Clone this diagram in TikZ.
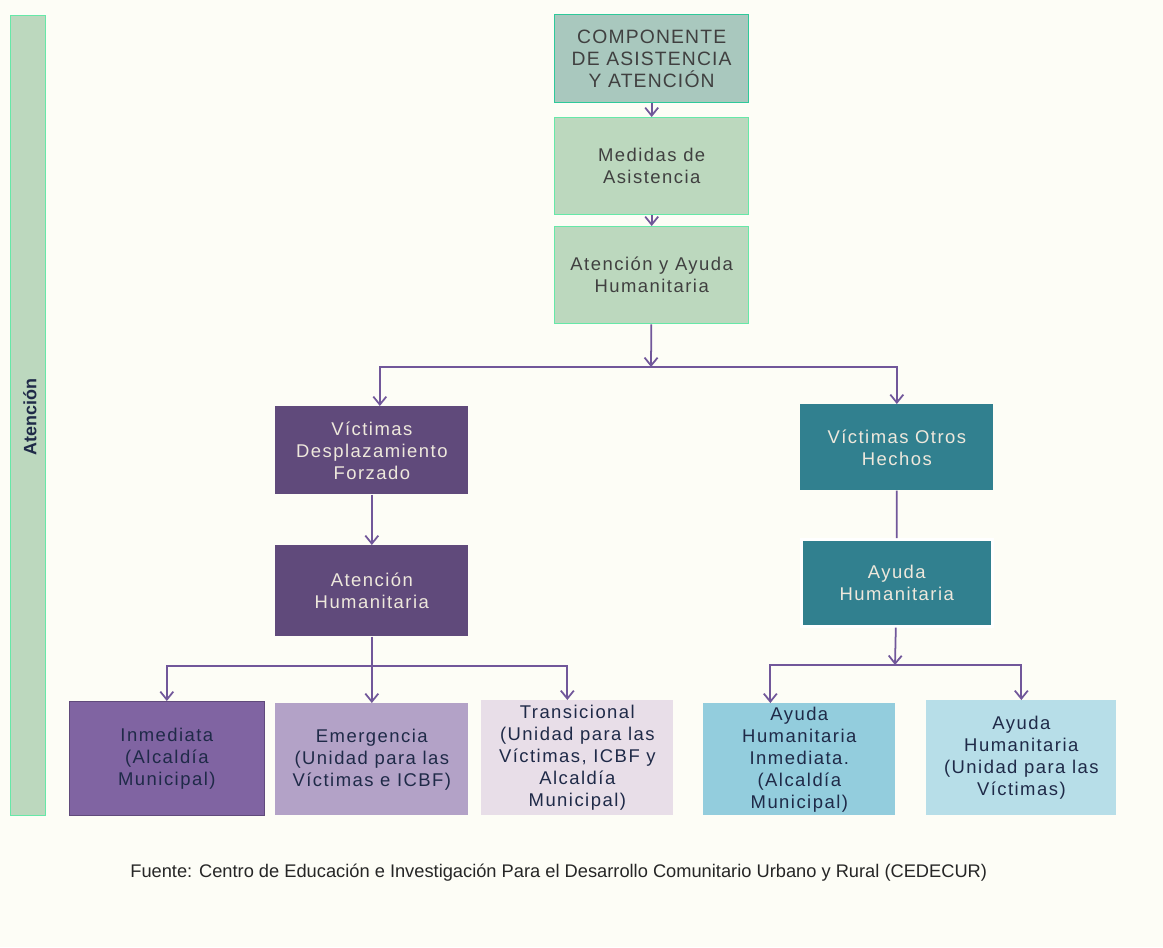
\documentclass[tikz,border=0pt]{standalone}
\usepackage{fontspec}
\setmainfont{Liberation Sans}
\usetikzlibrary{arrows.meta}

\definecolor{fondo}{HTML}{FDFDF6}
\definecolor{verdeclaro}{HTML}{BCD8BE}
\definecolor{verdeborde}{HTML}{66E8A8}
\definecolor{verdegris}{HTML}{A9C8BE}
\definecolor{verdeoscuro}{HTML}{2EC99A}
\definecolor{moradoosc}{HTML}{604A7B}
\definecolor{moradomed}{HTML}{8064A2}
\definecolor{moradoclaro}{HTML}{B3A2C7}
\definecolor{lila}{HTML}{E8DEE8}
\definecolor{azulverde}{HTML}{31808F}
\definecolor{celeste}{HTML}{93CDDD}
\definecolor{celesteclaro}{HTML}{B7DEE8}
\definecolor{flecha}{HTML}{71579A}
\definecolor{textooscuro}{HTML}{1F2A48}
\definecolor{textoclaro}{HTML}{EEE8DC}

\tikzset{
  caja/.style={rectangle, anchor=north west, align=center, inner sep=2pt, font=\fontsize{10.5}{12.5}\selectfont\addfontfeature{LetterSpace=8}},
  verde/.style={caja, draw=verdeborde, line width=0.8pt, fill=verdeclaro, text=black!75},
  morado/.style={caja, fill=moradoosc, text=textoclaro},
  teal/.style={caja, fill=azulverde, text=textoclaro},
  final/.style={caja, text=textooscuro},
  conector/.style={draw=flecha, line width=1pt}
}

\begin{document}
\begin{tikzpicture}[x=0.02cm, y=-0.02cm]

\useasboundingbox [fill=fondo] (0,0) rectangle (1163,947);

%% barra lateral
\node at (10,15) [rectangle, draw=verdeborde, line width=0.8pt, fill=verdeclaro, minimum height=16cm, minimum width=0.7cm, anchor=north west] (barra) {};
\node [rotate=90, font=\bfseries\fontsize{10.2}{11}\selectfont, text=textooscuro] at (30,417) (atencion) {Atención};

%% columna central
\node at (554,14) [verde, draw=verdeoscuro, fill=verdegris, minimum height=1.76cm, minimum width=3.88cm, font=\fontsize{11}{12.5}\selectfont\addfontfeature{LetterSpace=6}] (comp) {COMPONENTE\\DE ASISTENCIA\\Y ATENCIÓN};
\node at (554,117) [verde, minimum height=1.94cm, minimum width=3.88cm] (medidas) {Medidas de\\Asistencia};
\node at (554,226) [verde, minimum height=1.94cm, minimum width=3.88cm] (atayuda) {Atención y Ayuda\\Humanitaria};

%% rama izquierda
\node at (275,406) [morado, minimum height=1.76cm, minimum width=3.86cm] (vdesp) {Víctimas\\Desplazamiento\\Forzado};
\node at (275,545) [morado, minimum height=1.82cm, minimum width=3.86cm] (athum) {Atención\\Humanitaria};

%% rama derecha
\node at (800,404) [teal, minimum height=1.72cm, minimum width=3.86cm] (votros) {Víctimas Otros\\Hechos};
\node at (800,538) [teal, draw=white, line width=1.5pt, minimum height=1.74cm, minimum width=3.82cm] (ayhum) {Ayuda\\Humanitaria};

%% fila inferior
\node at (69,701) [final, draw=moradoosc, fill=moradomed, minimum height=2.28cm, minimum width=3.9cm] (inmed) {Inmediata\\(Alcaldía\\Municipal)};
\node at (275,703) [final, fill=moradoclaro, minimum height=2.24cm, minimum width=3.86cm] (emerg) {Emergencia\\(Unidad para las\\Víctimas e ICBF)};
\node at (481,700) [final, fill=lila, minimum height=2.3cm, minimum width=3.84cm] (trans) {Transicional\\(Unidad para las\\Víctimas, ICBF y\\Alcaldía\\Municipal)};
\node at (703,703) [final, fill=celeste, minimum height=2.24cm, minimum width=3.84cm] (ahinm) {Ayuda\\Humanitaria\\Inmediata.\\(Alcaldía\\Municipal)};
\node at (926,700) [final, fill=celesteclaro, minimum height=2.3cm, minimum width=3.8cm] (ahuni) {Ayuda\\Humanitaria\\(Unidad para las\\Víctimas)};

\node [anchor=west, inner sep=0pt, text=black!85, font=\fontsize{10.4}{12}\selectfont] at (130,873) (fuente) {Fuente: Centro de Educación e Investigación Para el Desarrollo Comunitario Urbano y Rural (CEDECUR)};

\coordinate (jtop) at (651,367);
\coordinate (jleft) at (372,666);
\coordinate (jright) at (895,665);

\begin{scope}[>={Straight Barb[length=1.6mm, width=2.6mm]}]
	\draw [conector, ->] (comp) -- (medidas);
	\draw [conector, ->] (medidas) -- (atayuda);
	\draw [conector, ->] (atayuda) -- (jtop);
	\draw [conector, ->] (jtop) -| ([xshift=0.16cm]vdesp.north);
	\draw [conector, ->] (jtop) -| (votros.north);
	\draw [conector, ->] (vdesp) -- (athum);
	\draw [conector, ->] (athum) -- (emerg);
	\draw [conector, ->] (jleft) -| (inmed.north);
	\draw [conector, ->] (jleft) -| ([xshift=-0.2cm]trans.north);
	\draw [conector] (votros) -- (ayhum);
	\draw [conector, ->] (ayhum) -- (jright);
	\draw [conector, ->] (jright) -| ([xshift=-0.58cm]ahinm.north);
	\draw [conector, ->] (jright) -| (ahuni.north);
\end{scope}

\end{tikzpicture}
\end{document}
